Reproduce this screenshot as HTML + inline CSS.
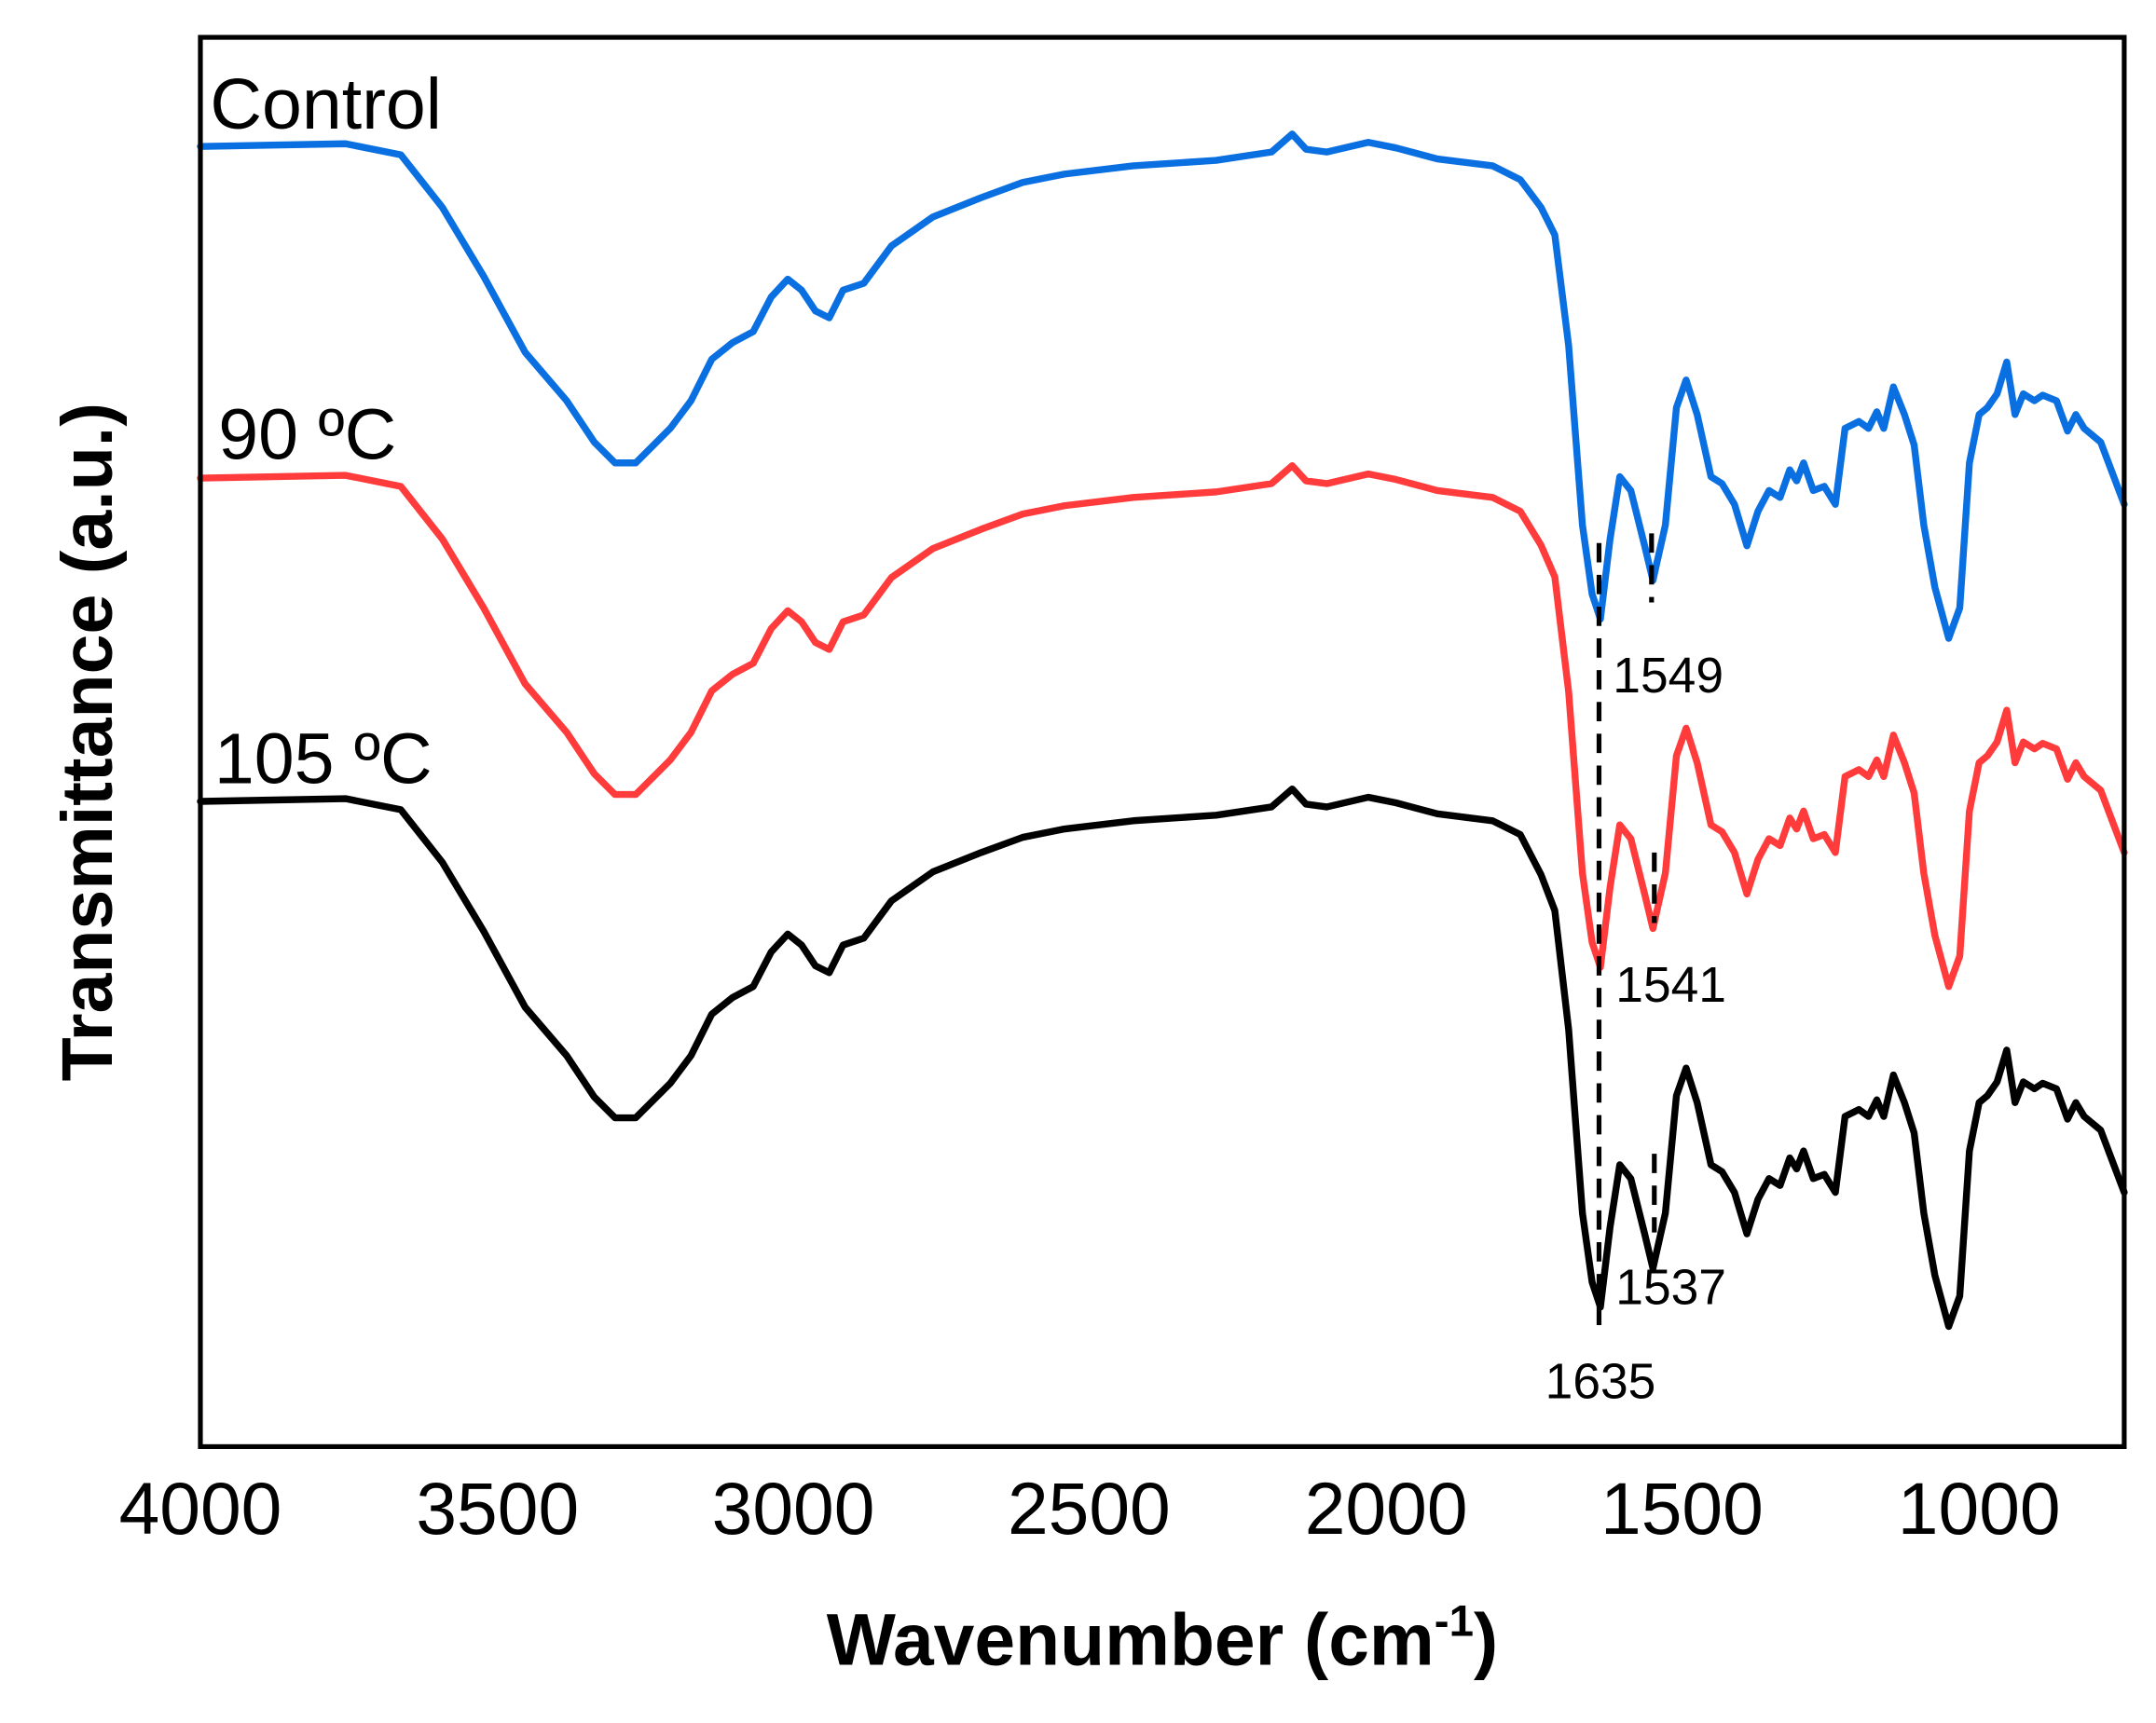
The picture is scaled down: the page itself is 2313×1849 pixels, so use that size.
<!DOCTYPE html>
<html><head><meta charset="utf-8"><style>
html,body{margin:0;padding:0;background:#fff;}
svg{display:block;}
</style></head><body>
<svg width="2313" height="1849" viewBox="0 0 1560 1247" xmlns="http://www.w3.org/2000/svg">
<rect x="0" y="0" width="1560" height="1247" fill="#fff"/>
<g id="curves" fill="none" stroke-width="5" stroke-linejoin="round" stroke-linecap="round"></g>
<g stroke="#000" stroke-width="3.5" stroke-dasharray="14,9">
<line x1="1157" y1="393" x2="1157" y2="962"/>
<line x1="1195" y1="386" x2="1195" y2="436"/>
<line x1="1197" y1="617" x2="1197" y2="668"/>
<line x1="1197" y1="835" x2="1197" y2="892"/>
</g>
<rect x="145" y="27" width="1392" height="1020" fill="none" stroke="#000" stroke-width="3.5"/>
<g id="ticks" stroke="#000" stroke-width="3.5"></g>
<g font-family="Liberation Sans, sans-serif" fill="#000">
<text x="152" y="93" font-size="52">Control</text>
<text x="158" y="332" font-size="52">90 ºC</text>
<text x="155" y="567" font-size="52">105 ºC</text>
<text x="1167" y="501" font-size="36">1549</text>
<text x="1169" y="725" font-size="36">1541</text>
<text x="1169" y="944" font-size="36">1537</text>
<text x="1118" y="1012" font-size="36">1635</text>
<g font-size="53" text-anchor="middle">
<text x="145" y="1110">4000</text><text x="360" y="1110">3500</text><text x="574" y="1110">3000</text>
<text x="788" y="1110">2500</text><text x="1003" y="1110">2000</text><text x="1217" y="1110">1500</text><text x="1432" y="1110">1000</text>
</g>
<text x="841" y="1205" font-size="53" font-weight="bold" text-anchor="middle">Wavenumber (cm<tspan dy="-21" font-size="32">-1</tspan><tspan dy="21">)</tspan></text>
<text transform="translate(81,537) rotate(-90)" font-size="52" font-weight="bold" text-anchor="middle">Transmittance (a.u.)</text>
</g>
<script>
var P=[[145,106],[250,104],[290,112],[320,150],[350,200],[380,255],[410,290],[430,320],[445,335],[460,335],[485,310],[500,290],[515,260],[530,248],[545,240],[558,215],[570,202],[580,210],[590,225],[600,230],[610,210],[625,205],[645,178],[675,157],[710,143],[740,132],[770,126],[820,120],[880,116],[920,110],[935,97],[945,108],[960,110],[990,103],[1010,107],[1040,115],[1080,120],[1100,130],[1115,150],[1125,170],[1135,250],[1145,380],[1152,430],[1158,448],[1165,390],[1172,345],[1180,355],[1190,395],[1196,420],[1205,380],[1213,295],[1220,275],[1228,300],[1238,345],[1246,350],[1255,365],[1264,395],[1272,370],[1280,355],[1288,360],[1295,340],[1300,348],[1305,335],[1312,355],[1320,352],[1328,365],[1335,310],[1345,305],[1352,310],[1358,298],[1363,310],[1370,280],[1378,300],[1385,322],[1392,380],[1400,425],[1410,462],[1418,440],[1425,335],[1432,300],[1438,295],[1445,285],[1452,262],[1458,300],[1464,285],[1472,290],[1478,286],[1488,290],[1496,312],[1502,300],[1508,310],[1520,320],[1537,365]];
function mk(col,base,extra){
 var d='';P.forEach(function(p,i){var e=p[0]>1100?Math.min(1,(p[0]-1100)/40)*extra:0;
 d+=(i?'L':'M')+p[0]+','+(p[1]+base+e).toFixed(1);});
 var el=document.createElementNS('http://www.w3.org/2000/svg','path');
 el.setAttribute('d',d);el.setAttribute('stroke',col);document.getElementById('curves').appendChild(el);}
mk('#0a6fe0',0,0);mk('#ff3b3b',240,12);mk('#000',474,24);
var t='';for(var w=4000;w>=750;w-=250){var x=145+(4000-w)/500*214.3;var L=(w%500==0)?15:8;
t+='<line x1="'+x+'" y1="1047" x2="'+x+'" y2="'+(1047-L)+'"/>';}
document.getElementById('ticks').innerHTML=t;
</script>
</svg>
</body></html>
